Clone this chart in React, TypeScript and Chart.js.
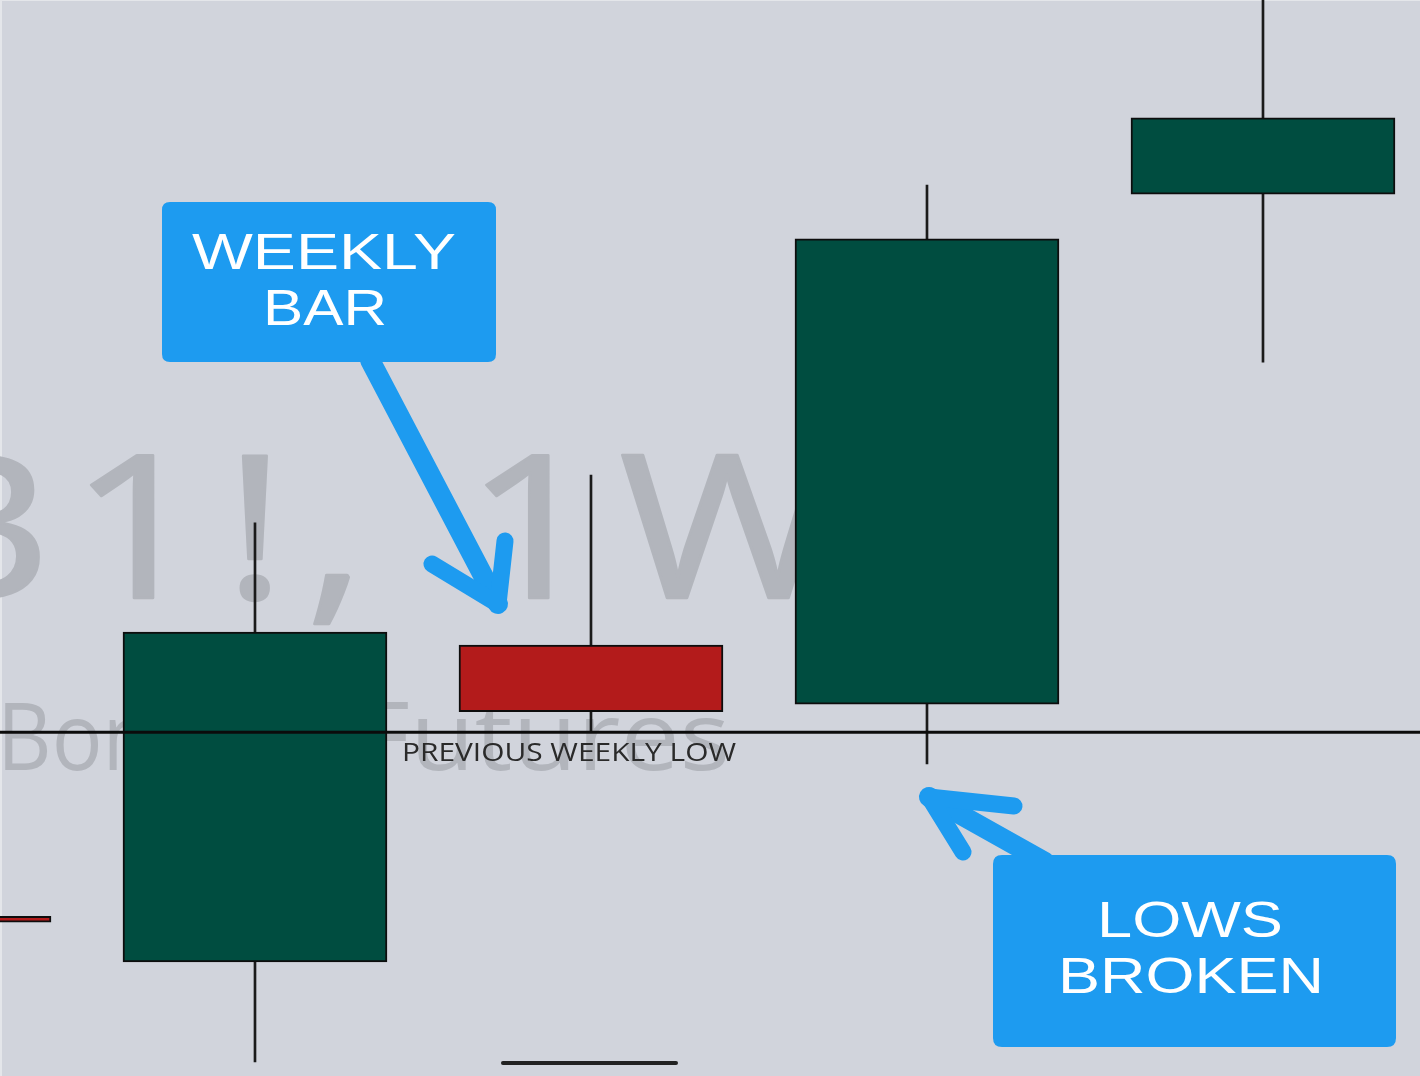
import { useEffect, useRef } from "react";
import { Chart, registerables } from "chart.js";

Chart.register(...registerables);

// ---- data (weekly candles, price units) ----
const CANDLE_X = [0, 1, 2, 3, 4];
const OPEN = [142.97, 142.12, 148.01, 146.91, 156.39];
const CLOSE = [142.86, 148.25, 146.77, 155.56, 157.81];
const HIGH = [143.5, 150.28, 151.17, 156.56, 160.8];
const LOW = [142.4, 140.26, 146.41, 145.8, 153.27];
const PREV_WEEKLY_LOW = 146.39;
const LEVEL_X = [1.738, 2.253];
const LEVEL_Y = [140.24, 140.24];
const X_RANGE = [0.2411, 4.4673];
const Y_RANGE = [140, 160];
const LABEL_X = 1.4375;
const WATERMARK_LINE1 = "ZB1!, 1W";
const WATERMARK_LINE2 = ["Bond", "Futures"];
const LINE_LABEL = "PREVIOUS WEEKLY LOW";
const CALLOUT_1 = ["WEEKLY", "BAR"];
const CALLOUT_2 = ["LOWS", "BROKEN"];

const UP = "#004d40";
const DOWN = "#b31b1b";
const BG = "#d1d4dc";
const BLUE = "#1d9bf0";
const WM = "#b2b5bc";

function drawText(
  ctx: CanvasRenderingContext2D,
  text: string,
  x: number,
  y: number,
  font: string,
  color: string,
  opts: {
    sx?: number;
    spacing?: number;
    align?: "left" | "center" | "right";
    fitWidth?: number;
    thicken?: number;
  }
) {
  ctx.save();
  ctx.font = font;
  ctx.fillStyle = color;
  ctx.textAlign = "left";
  ctx.textBaseline = "alphabetic";
  const spacing = opts.spacing || 0;
  (ctx as any).letterSpacing = "0px";
  const raw = ctx.measureText(text).width + spacing * (text.length - 1);
  let sx = opts.sx || 1;
  if (opts.fitWidth) sx = opts.fitWidth / raw;
  const w = raw * sx;
  const align = opts.align || "left";
  const left = align === "center" ? x - w / 2 : align === "right" ? x - w : x;
  (ctx as any).letterSpacing = spacing + "px";
  ctx.translate(left, y);
  ctx.scale(sx, 1);
  ctx.fillText(text, 0, 0);
  if (opts.thicken) {
    ctx.strokeStyle = color;
    ctx.lineJoin = "round";
    ctx.lineWidth = opts.thicken;
    ctx.strokeText(text, 0, 0);
  }
  ctx.restore();
}

function roundRect(ctx: CanvasRenderingContext2D, x: number, y: number, w: number, h: number, r: number) {
  ctx.beginPath();
  ctx.moveTo(x + r, y);
  ctx.lineTo(x + w - r, y);
  ctx.quadraticCurveTo(x + w, y, x + w, y + r);
  ctx.lineTo(x + w, y + h - r);
  ctx.quadraticCurveTo(x + w, y + h, x + w - r, y + h);
  ctx.lineTo(x + r, y + h);
  ctx.quadraticCurveTo(x, y + h, x, y + h - r);
  ctx.lineTo(x, y + r);
  ctx.quadraticCurveTo(x, y, x + r, y);
  ctx.closePath();
}

function arrow(
  ctx: CanvasRenderingContext2D,
  from: [number, number],
  tip: [number, number],
  armA: [number, number],
  armB: [number, number]
) {
  ctx.save();
  ctx.strokeStyle = BLUE;
  ctx.lineCap = "round";
  ctx.lineJoin = "round";
  ctx.lineWidth = 20;
  ctx.beginPath();
  ctx.moveTo(from[0], from[1]);
  ctx.lineTo(tip[0], tip[1]);
  ctx.stroke();
  ctx.lineWidth = 17;
  ctx.beginPath();
  ctx.moveTo(armA[0], armA[1]);
  ctx.lineTo(tip[0], tip[1]);
  ctx.lineTo(armB[0], armB[1]);
  ctx.stroke();
  ctx.restore();
}

const backgroundPlugin = {
  id: "bg",
  beforeDraw(chart: any) {
    const ctx = chart.ctx as CanvasRenderingContext2D;
    ctx.save();
    ctx.fillStyle = BG;
    ctx.fillRect(0, 0, chart.width, chart.height);
    ctx.fillStyle = "#e4e6ea";
    ctx.fillRect(0, 0, chart.width, 1);
    ctx.fillRect(0, 0, 2, chart.height);
    ctx.restore();
  },
};

const watermarkPlugin = {
  id: "watermark",
  beforeDatasetsDraw(chart: any) {
    const ctx = chart.ctx as CanvasRenderingContext2D;
    // line 1
    ctx.save();
    const f1 = '200px "Open Sans"';
    ctx.font = f1;
    const sx1 = 1.18;
    const sp1 = 16;
    const prefix = ctx.measureText("ZB").width + sp1 * 2;
    ctx.restore();
    drawText(ctx, WATERMARK_LINE1, 70 - prefix * sx1, 598, f1, WM, { sx: sx1, spacing: sp1, thicken: 2.5 });
    // line 2
    drawText(ctx, WATERMARK_LINE2[0], -3, 770, '94px "Open Sans"', WM, { sx: 0.9 });
    drawText(ctx, WATERMARK_LINE2[1], 730, 770, '96px "Open Sans"', WM, { sx: 1.1, align: "right" });
  },
};

const annotationPlugin = {
  id: "annotations",
  afterDatasetsDraw(chart: any) {
    const ctx = chart.ctx as CanvasRenderingContext2D;
    const xs = chart.scales.x;
    const ys = chart.scales.y;
    // line label
    const lx = xs.getPixelForValue(LABEL_X);
    const ly = ys.getPixelForValue(PREV_WEEKLY_LOW) + 29;
    drawText(ctx, LINE_LABEL, lx, ly, '26px "Open Sans"', "#2a2a2a", { fitWidth: 334 });

    // callout 1
    arrow(ctx, [370, 360], [498, 604], [505, 541], [432, 564]);
    ctx.save();
    ctx.fillStyle = BLUE;
    roundRect(ctx, 162, 202, 334, 160, 8);
    ctx.fill();
    ctx.restore();
    const cf = '50px "Liberation Sans"';
    drawText(ctx, CALLOUT_1[0], 324, 269, cf, "#ffffff", { align: "center", fitWidth: 264 });
    drawText(ctx, CALLOUT_1[1], 325, 325, cf, "#ffffff", { align: "center", fitWidth: 124 });

    // callout 2
    arrow(ctx, [1045, 862], [929, 797], [1014, 806], [963, 852]);
    ctx.save();
    ctx.fillStyle = BLUE;
    roundRect(ctx, 993, 855, 403, 192, 9);
    ctx.fill();
    ctx.restore();
    drawText(ctx, CALLOUT_2[0], 1190, 937, cf, "#ffffff", { align: "center", fitWidth: 186 });
    drawText(ctx, CALLOUT_2[1], 1191, 993, cf, "#ffffff", { align: "center", fitWidth: 266 });
  },
};

export default function App() {
  const ref = useRef<HTMLCanvasElement | null>(null);

  useEffect(() => {
    if (!ref.current) return;
    const colors = OPEN.map((o, i) => (CLOSE[i] >= o ? UP : DOWN));
    const chart = new Chart(ref.current, {
      type: "bar",
      data: {
        datasets: [
          {
            type: "line",
            label: "Previous weekly low",
            data: [
              { x: X_RANGE[0] - 1, y: PREV_WEEKLY_LOW },
              { x: X_RANGE[1] + 1, y: PREV_WEEKLY_LOW },
            ],
            borderColor: "#0b0b0b",
            borderWidth: 3,
            pointRadius: 0,
            order: 0,
          } as any,
          {
            type: "line",
            label: "Level",
            data: LEVEL_X.map((x, i) => ({ x, y: LEVEL_Y[i] })),
            borderColor: "#222222",
            borderWidth: 4,
            borderCapStyle: "round",
            pointRadius: 0,
            order: 0,
          } as any,
          {
            label: "Body",
            data: CANDLE_X.map((x, i) => ({ x, y: [OPEN[i], CLOSE[i]] })),
            backgroundColor: colors,
            borderColor: "#0d0d0d",
            borderWidth: 2,
            borderSkipped: false,
            barThickness: 264,
            grouped: false,
            order: 1,
          } as any,
          {
            label: "Wick",
            data: CANDLE_X.map((x, i) => ({ x, y: [LOW[i], HIGH[i]] })),
            backgroundColor: "#1a1a1a",
            borderWidth: 0,
            barThickness: 2,
            grouped: false,
            order: 2,
          } as any,
        ],
      },
      options: {
        animation: false,
        responsive: false,
        devicePixelRatio: 1,
        events: [],
        layout: { padding: 0 },
        plugins: { legend: { display: false }, tooltip: { enabled: false } },
        scales: {
          x: {
            type: "linear",
            min: X_RANGE[0],
            max: X_RANGE[1],
            display: false,
            offset: false,
            grid: { display: false },
          },
          y: {
            type: "linear",
            min: Y_RANGE[0],
            max: Y_RANGE[1],
            display: false,
            grid: { display: false },
          },
        },
      } as any,
      plugins: [backgroundPlugin, watermarkPlugin, annotationPlugin],
    });
    return () => chart.destroy();
  }, []);

  return (
    <div style={{ position: "fixed", left: 0, top: 0, width: 1420, height: 1076, background: BG }}>
      <canvas ref={ref} width={1420} height={1076} style={{ display: "block" }} />
    </div>
  );
}
